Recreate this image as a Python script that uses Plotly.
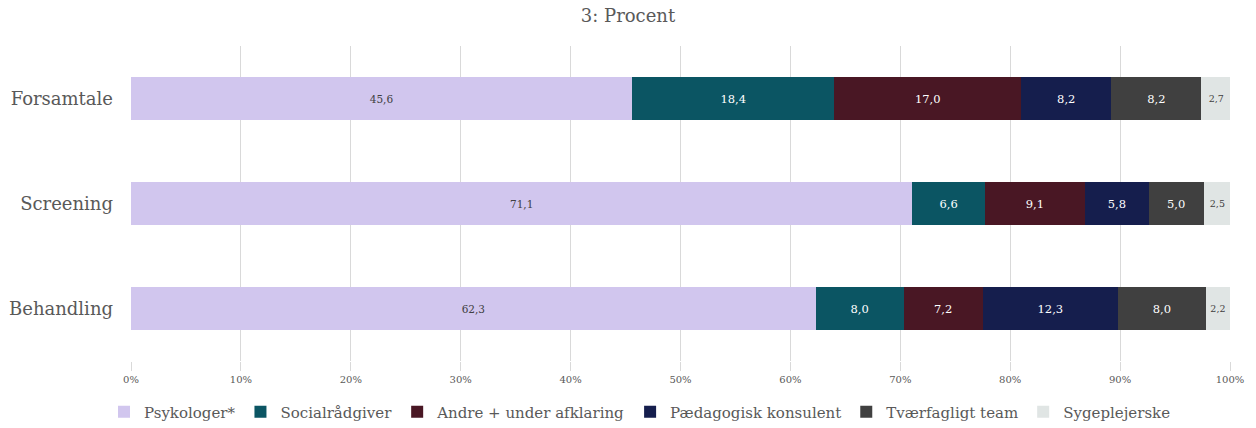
import plotly.graph_objects as go

categories = ["Forsamtale", "Screening", "Behandling"]
series_names = ["Psykologer*", "Socialrådgiver", "Andre + under afklaring",
                "Pædagogisk konsulent", "Tværfagligt team", "Sygeplejerske"]
psykologer = [45.6, 71.1, 62.3]
socialraadgiver = [18.4, 6.6, 8.0]
andre = [17.0, 9.1, 7.2]
paedagogisk = [8.2, 5.8, 12.3]
tvaerfagligt = [8.2, 5.0, 8.0]
sygeplejerske = [2.7, 2.5, 2.2]
tick_vals = [0, 10, 20, 30, 40, 50, 60, 70, 80, 90, 100]
tick_text = [f"{v}%" for v in tick_vals]

values = [psykologer, socialraadgiver, andre, paedagogisk, tvaerfagligt, sygeplejerske]
colors = ["#D1C6EE", "#0B5563", "#491724", "#151E4D", "#404040", "#E0E5E4"]
text_colors = ["#404040", "white", "white", "white", "white", "#404040"]
text_sizes = [10.5, 11.5, 11.5, 11.5, 11.5, 9.5]

FONT = "Georgia, 'DejaVu Serif', serif"

fig = go.Figure()
for name, vals, col, tcol, tsz in zip(series_names, values, colors, text_colors, text_sizes):
    fig.add_trace(go.Bar(
        y=categories, x=vals, name=name, orientation="h",
        marker=dict(color=col, line=dict(width=0)),
        text=[f"{v:.1f}".replace(".", ",") for v in vals],
        textposition="inside", insidetextanchor="middle", textangle=0,
        textfont=dict(color=tcol, size=tsz, family=FONT),
        constraintext="none",
    ))

fig.update_layout(
    barmode="stack",
    bargap=0.59,
    width=1256, height=428,
    margin=dict(l=131, r=26, t=46, b=67, autoexpand=False),
    paper_bgcolor="white", plot_bgcolor="white",
    font=dict(family=FONT, color="#595959"),
    title=dict(text="3: Procent", x=0.5, xanchor="center", xref="container",
               y=1 - 16 / 428, yanchor="middle", yref="container",
               font=dict(size=18, color="#595959", family=FONT)),
    xaxis=dict(range=[0, 100], tickvals=tick_vals, ticktext=tick_text,
               showgrid=True, gridcolor="#D9D9D9", gridwidth=1, zeroline=False,
               tickfont=dict(size=10, color="#595959"),
               ticks="outside", ticklen=9, tickcolor="#D9D9D9", tickwidth=1,
               showline=False, automargin=False, fixedrange=True),
    yaxis=dict(categoryorder="array", categoryarray=categories, autorange="reversed",
               tickfont=dict(size=18, color="#595959"), ticks="", showline=False,
               ticklabelstandoff=17, automargin=False),
    legend=dict(orientation="h", x=640 / 1256, xanchor="center", xref="container",
                y=16 / 428, yanchor="middle", yref="container",
                font=dict(size=15, color="#595959"), traceorder="normal",
                itemwidth=30, tracegroupgap=0),
)

fig.write_html("out.html", config={"displayModeBar": False},
               post_script="document.body.style.margin='0';")
